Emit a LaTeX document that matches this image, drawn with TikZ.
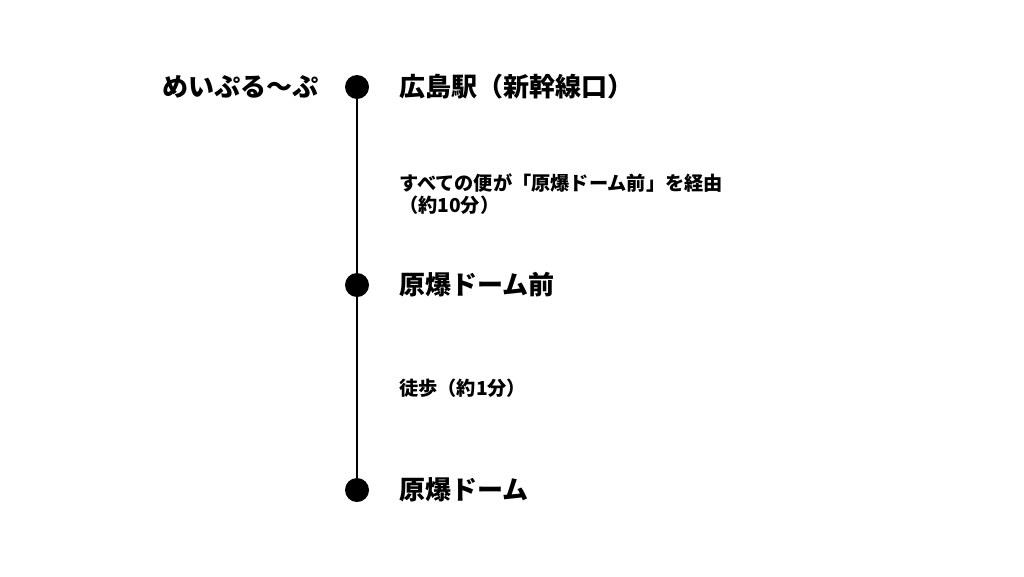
\documentclass[tikz,border=0pt]{standalone}
\usepackage{fontspec}
\usetikzlibrary{backgrounds}
\newfontfamily\jp{Noto Sans CJK JP}
\begin{document}
\begin{tikzpicture}[x=1pt,y=-1pt,
  stop/.style={circle,fill=black,minimum size=24pt,inner sep=0pt},
  bigtxt/.style={inner sep=0pt,font=\jp\bfseries\fontsize{26}{30}\selectfont},
  smalltxt/.style={inner sep=0pt,align=left,font=\jp\bfseries\fontsize{19.2}{21.5}\selectfont},
  route/.style={line width=1.7pt}]
\useasboundingbox (0,0) rectangle (1024,576);
\node[stop] (s1) at (357,87) {};
\node[stop] (s2) at (357,285) {};
\node[stop] (s3) at (357,490) {};
\begin{pgfonlayer}{background}
\fill[white] (0,0) rectangle (1024,576);
\draw[route] (s1.center) -- (s2.center) -- (s3.center);
\end{pgfonlayer}
\node[bigtxt,anchor=east] (line) at (319,87) {めいぷる〜ぷ};
\node[bigtxt,anchor=west] (n1) at (399,87) {広島駅（新幹線口）};
\node[smalltxt,anchor=west] (d1) at (399,194.3) {すべての便が「原爆ドーム前」を経由\\（約10分）};
\node[bigtxt,anchor=west] (n2) at (399,285) {原爆ドーム前};
\node[smalltxt,anchor=west] (d2) at (399,388) {徒歩（約1分）};
\node[bigtxt,anchor=west] (n3) at (399,490) {原爆ドーム};
\end{tikzpicture}
\end{document}
